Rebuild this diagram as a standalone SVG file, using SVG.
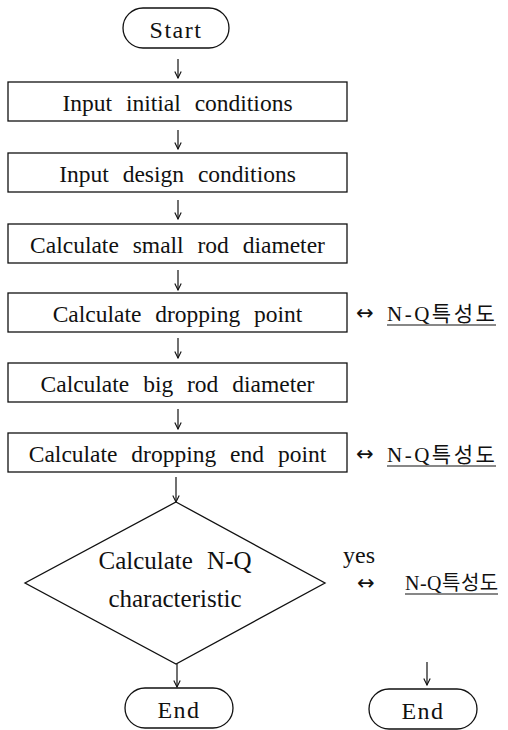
<svg xmlns="http://www.w3.org/2000/svg" width="508" height="730" viewBox="0 0 508 730">
<style>
  .shape { fill: #ffffff; stroke: #111111; stroke-width: 1.3; }
  .t { font-family: "Liberation Serif", "Noto Sans CJK KR", serif; font-size: 23.5px; fill: #111111; text-anchor: middle; word-spacing: 8px; }
  .d { font-family: "Liberation Serif", serif; font-size: 25px; fill: #111111; text-anchor: middle; word-spacing: 8px; }
  .term { font-family: "Liberation Serif", serif; font-size: 24px; fill: #111111; text-anchor: middle; letter-spacing: 1.5px; }
  .lbl { font-family: "Liberation Serif", "Noto Sans CJK KR", serif; font-size: 21px; fill: #111111; letter-spacing: 2.5px; }
  .arr { font-family: "DejaVu Sans", sans-serif; font-size: 21px; fill: #111111; }
  .ul { stroke: #111111; stroke-width: 1.1; }
  .conn { stroke: #111111; stroke-width: 1.2; fill: none; marker-end: url(#ah); }
</style>
<defs>
  <marker id="ah" viewBox="0 0 10 10" refX="9" refY="5" markerWidth="8" markerHeight="8" orient="auto" markerUnits="userSpaceOnUse">
    <path d="M1,1 L9,5 L1,9" fill="none" stroke="#111111" stroke-width="1.4"/>
  </marker>
</defs>
<rect width="508" height="730" fill="#ffffff"/>

<g id="start">
  <rect class="shape" x="123" y="8" width="106" height="40" rx="20" ry="20"/>
  <text class="term" x="176" y="38">Start</text>
</g>
<g id="input-initial">
  <rect class="shape" x="8" y="82" width="339" height="39"/>
  <text class="t" x="177.5" y="111">Input initial conditions</text>
</g>
<g id="input-design">
  <rect class="shape" x="8" y="153" width="339" height="39"/>
  <text class="t" x="177.5" y="182">Input design conditions</text>
</g>
<g id="calc-small-rod">
  <rect class="shape" x="8" y="224" width="339" height="39"/>
  <text class="t" x="177.5" y="253">Calculate small rod diameter</text>
</g>
<g id="calc-dropping-point">
  <rect class="shape" x="8" y="293" width="339" height="39"/>
  <text class="t" x="177.5" y="322">Calculate dropping point</text>
</g>
<g id="label-1">
  <text class="arr" x="356" y="320">↔</text>
  <text class="lbl" x="387" y="321">N-Q특성도</text>
  <line class="ul" x1="387" y1="325" x2="496" y2="325"/>
</g>
<g id="calc-big-rod">
  <rect class="shape" x="8" y="363" width="339" height="39"/>
  <text class="t" x="177.5" y="392">Calculate big rod diameter</text>
</g>
<g id="calc-dropping-end">
  <rect class="shape" x="8" y="433" width="339" height="39"/>
  <text class="t" x="177.5" y="462">Calculate dropping end point</text>
</g>
<g id="label-2">
  <text class="arr" x="356" y="461">↔</text>
  <text class="lbl" x="387" y="462">N-Q특성도</text>
  <line class="ul" x1="387" y1="466" x2="496" y2="466"/>
</g>
<g id="decision">
  <polygon class="shape" points="176,502 325,583 176,664 25,583"/>
  <text class="d" x="175" y="569">Calculate N-Q</text>
  <text class="d" x="175" y="607">characteristic</text>
</g>
<g id="yes-label">
  <text class="d" x="359" y="563" style="font-size:24px">yes</text>
</g>
<g id="label-3">
  <text class="arr" x="357" y="590">↔</text>
  <text class="lbl" x="405" y="590" style="font-size:20px;letter-spacing:0.5px">N-Q특성도</text>
  <line class="ul" x1="405" y1="594" x2="498" y2="594"/>
</g>
<g id="end-left">
  <rect class="shape" x="125" y="688" width="108" height="40" rx="20" ry="20"/>
  <text class="term" x="179" y="718">End</text>
</g>
<g id="end-right">
  <rect class="shape" x="369" y="689" width="108" height="40" rx="20" ry="20"/>
  <text class="term" x="423" y="719">End</text>
</g>

<g id="connectors">
  <line class="conn" x1="178" y1="59" x2="178" y2="78"/>
  <line class="conn" x1="178" y1="130" x2="178" y2="149"/>
  <line class="conn" x1="178" y1="200" x2="178" y2="219"/>
  <line class="conn" x1="178" y1="270" x2="178" y2="290"/>
  <line class="conn" x1="178" y1="338" x2="178" y2="358"/>
  <line class="conn" x1="178" y1="409" x2="178" y2="429"/>
  <line class="conn" x1="176" y1="477" x2="176" y2="502"/>
  <line class="conn" x1="177" y1="664" x2="177" y2="687"/>
  <line class="conn" x1="427" y1="662" x2="427" y2="685"/>
</g>
</svg>
